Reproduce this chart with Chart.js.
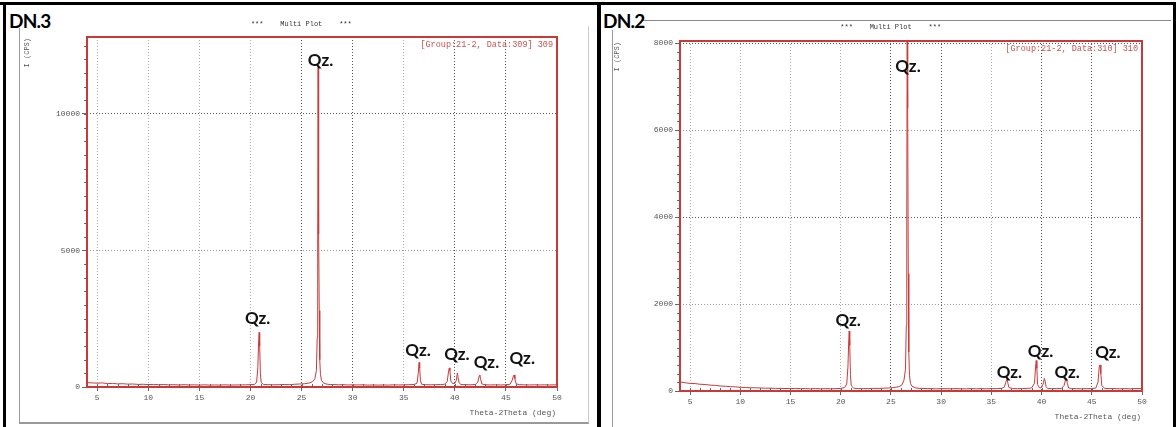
<!DOCTYPE html>
<html>
<head>
<meta charset="utf-8">
<script src="https://cdn.jsdelivr.net/npm/chart.js@4.4.1/dist/chart.umd.min.js"></script>
<style>
  html, body { margin: 0; padding: 0; background: #fff; }
  body { width: 1176px; height: 427px; position: relative; overflow: hidden; }
  .bar { position: absolute; }
  .tag { position: absolute; font-family: Lato, sans-serif; font-weight: 700; font-size: 19px; letter-spacing: -0.8px; color: #000; line-height: 19px; }
  canvas { position: absolute; top: 0; }
</style>
</head>
<body>
<!-- screenshot frame -->
<div class="bar" style="left:0;top:2px;width:1176px;height:3px;background:#000"></div>
<div class="bar" style="left:3px;top:2px;width:3px;height:425px;background:#000"></div>
<div class="bar" style="left:597px;top:2px;width:4px;height:425px;background:#000"></div>
<div class="bar" style="left:1173px;top:2px;width:3px;height:425px;background:#000"></div>
<div class="bar" style="left:19px;top:28px;width:1px;height:395px;background:#999"></div>
<div class="bar" style="left:19px;top:422px;width:570px;height:2px;background:#999"></div>
<div class="bar" style="left:588px;top:26px;width:1px;height:397px;background:#ccc"></div>
<div class="bar" style="left:612px;top:30px;width:1px;height:397px;background:#999"></div>
<div class="bar" style="left:641px;top:20px;width:530px;height:1px;background:#888"></div>
<div class="tag" style="left:9px;top:11px">DN.3</div>
<div class="tag" style="left:603px;top:11px">DN.2</div>

<canvas id="dn3" width="598" height="427" style="left:0"></canvas>
<canvas id="dn2" width="576" height="427" style="left:600px"></canvas>

<script>
// 2-theta tick labels shared by both plots
const xTicks = [5, 10, 15, 20, 25, 30, 35, 40, 45, 50];
const dn3YTicks = [0, 5000, 10000];
const dn2YTicks = [0, 2000, 4000, 6000, 8000];

// DN.3 pattern (deg, CPS)
const dn3Theta = [4.0, 4.5, 5.0, 5.5, 6.0, 6.5, 7.0, 7.5, 8.0, 8.5, 9.0, 9.5, 10.0, 10.5, 11.0, 11.5, 12.0, 12.5,
  13.0, 13.5, 14.0, 14.5, 15.0, 15.5, 16.0, 16.5, 17.0, 17.5, 18.0, 18.5, 19.0, 19.5, 20.0, 20.4, 20.6, 20.72,
  20.8, 20.85, 20.9, 20.97, 21.05, 21.3, 21.8, 22.3, 22.8, 23.3, 23.8, 24.3, 24.8, 25.3, 25.8, 26.1, 26.3, 26.45,
  26.53, 26.58, 26.62, 26.65, 26.69, 26.73, 26.78, 26.85, 26.95, 27.1, 27.4, 27.8, 28.2, 28.6, 29.0, 29.5, 30.0,
  30.5, 31.0, 31.5, 32.0, 32.5, 33.0, 33.5, 34.0, 34.5, 35.0, 35.5, 36.0, 36.3, 36.42, 36.5, 36.56, 36.63, 36.75,
  37.1, 37.6, 38.1, 38.6, 39.0, 39.25, 39.38, 39.46, 39.52, 39.6, 39.8, 40.0, 40.15, 40.25, 40.32, 40.42, 40.6,
  41.0, 41.5, 42.0, 42.25, 42.38, 42.45, 42.52, 42.65, 43.0, 43.5, 44.0, 44.5, 45.0, 45.4, 45.62, 45.74, 45.8,
  45.88, 46.0, 46.3, 46.8, 47.3, 47.8, 48.3, 48.8, 49.3, 50.0];
const dn3Counts = [160, 150, 140, 150, 125, 130, 115, 120, 105, 110, 95, 100, 90, 95, 85, 90, 80, 85,
  75, 85, 75, 80, 70, 80, 70, 75, 70, 80, 70, 75, 75, 80, 85, 95, 180, 700,
  1700, 2000, 1500, 500, 160, 90, 85, 80, 85, 90, 85, 100, 110, 120, 150, 200, 300, 600,
  1800, 5500, 11700, 7000, 5600, 2800, 1000, 450, 250, 160, 110, 90, 90, 80, 85, 75, 80,
  75, 80, 70, 75, 70, 75, 70, 80, 75, 80, 85, 90, 140, 500, 900, 700, 250, 100,
  85, 80, 85, 90, 100, 200, 550, 700, 600, 220, 120, 130, 250, 510, 350, 150, 90,
  85, 80, 90, 180, 400, 440, 300, 110, 80, 75, 80, 75, 80, 100, 250, 420, 440,
  300, 120, 85, 80, 75, 80, 75, 80, 75, 80];

// DN.2 pattern (deg, CPS)
const dn2Theta = [4.0, 4.5, 5.0, 5.5, 6.0, 6.5, 7.0, 7.5, 8.0, 8.5, 9.0, 9.5, 10.0, 10.5, 11.0, 11.5, 12.0, 12.5,
  13.0, 13.5, 14.0, 15.0, 15.5, 16.0, 16.5, 17.0, 17.5, 18.0, 18.5, 19.0, 19.5, 20.0, 20.4, 20.6, 20.72, 20.8,
  20.85, 20.9, 20.97, 21.05, 21.3, 21.8, 22.3, 22.8, 23.3, 23.8, 24.3, 24.8, 25.3, 25.8, 26.1, 26.3, 26.45, 26.53,
  26.58, 26.62, 26.65, 26.69, 26.73, 26.78, 26.85, 26.95, 27.1, 27.4, 27.8, 28.2, 28.6, 29.0, 29.5, 30.0, 31.0,
  31.5, 32.0, 32.5, 33.0, 33.5, 34.0, 34.5, 35.0, 35.5, 36.0, 36.3, 36.42, 36.55, 36.63, 36.75, 37.1, 37.6, 38.1,
  38.6, 39.0, 39.3, 39.4, 39.47, 39.53, 39.6, 39.8, 40.0, 40.15, 40.28, 40.36, 40.45, 40.6, 41.0, 41.5, 42.0,
  42.25, 42.4, 42.48, 42.56, 42.7, 43.0, 43.5, 44.0, 44.5, 45.0, 45.4, 45.62, 45.74, 45.82, 45.9, 46.0, 46.3,
  46.8, 47.3, 47.8, 48.3, 48.8, 49.3, 50.0];
const dn2Counts = [210, 190, 175, 170, 155, 150, 135, 130, 115, 110, 100, 95, 85, 80, 75, 75, 70, 65,
  65, 60, 60, 55, 60, 55, 55, 50, 55, 50, 55, 50, 55, 60, 80, 160, 550, 1150,
  1380, 1050, 380, 120, 65, 55, 55, 55, 60, 60, 65, 70, 80, 100, 140, 250, 500, 1500,
  4000, 8300, 6900, 6500, 2700, 900, 350, 170, 110, 75, 60, 60, 55, 55, 50, 55, 50,
  55, 50, 50, 55, 50, 55, 50, 55, 55, 60, 90, 190, 270, 200, 80, 55, 55, 55,
  60, 70, 180, 550, 700, 520, 150, 70, 80, 160, 290, 220, 100, 60, 55, 55, 60,
  130, 270, 290, 180, 70, 55, 55, 50, 55, 55, 70, 200, 550, 600, 400, 120, 60,
  55, 55, 50, 55, 50, 55, 55];

// "Qz." peak labels, anchored in data units
const dn3QzTheta = [20.7, 26.86, 36.4, 40.2, 43.1, 46.6];
const dn3QzCounts = [2520, 11960, 1350, 1200, 915, 1060];
const dn2QzTheta = [20.74, 26.7, 36.8, 39.9, 42.55, 46.6];
const dn2QzCounts = [1610, 7450, 414, 897, 414, 874];

const RED = '#c83a3a';
const MONO = '"Liberation Mono", "DejaVu Sans Mono", monospace';
const darkX = [25, 30, 40, 45];

function buildChart(id, p) {
  const pts = p.theta.map((t, i) => ({ x: t, y: p.counts[i] }));

  const decor = {
    id: 'xrdDecor',
    afterDraw(chart) {
      const { ctx, chartArea: a, scales: { x, y } } = chart;
      ctx.save();
      // minor ticks
      ctx.strokeStyle = '#666';
      ctx.lineWidth = 1;
      ctx.beginPath();
      for (let v = 5; v < 50; v++) {
        const px = Math.round(x.getPixelForValue(v)) + 0.5;
        ctx.moveTo(px, a.bottom);
        ctx.lineTo(px, a.bottom - 3);
      }
      for (let v = p.minorY; v < y.max; v += p.minorY) {
        const py = Math.round(y.getPixelForValue(v)) + 0.5;
        ctx.moveTo(a.left - 3, py);
        ctx.lineTo(a.left, py);
      }
      ctx.stroke();

      // red plot frame
      ctx.strokeStyle = RED;
      ctx.lineWidth = 2;
      ctx.strokeRect(a.left, a.top, a.right - a.left, a.bottom - a.top);

      // header and axis texts
      ctx.fillStyle = '#333';
      ctx.font = '7px ' + MONO;
      ctx.textAlign = 'center';
      ctx.textBaseline = 'middle';
      ctx.fillText('***    Multi Plot    ***', a.left + (a.right - a.left) * 0.456, p.titleY);

      ctx.fillStyle = '#c25555';
      ctx.font = '8.5px ' + MONO;
      ctx.textAlign = 'right';
      ctx.fillText(p.group, a.right - 4, a.top + 8);

      ctx.fillStyle = '#555';
      ctx.font = '8px ' + MONO;
      ctx.fillText('Theta-2Theta (deg)', a.right - 1, a.bottom + 26);

      ctx.save();
      ctx.translate(p.yTitleX, a.top + 1);
      ctx.rotate(-Math.PI / 2);
      ctx.textAlign = 'right';
      ctx.font = '7px ' + MONO;
      ctx.fillText('I (CPS)', 0, 0);
      ctx.restore();

      // Qz. annotations
      ctx.fillStyle = '#111';
      ctx.font = 'bold 17px Lato, sans-serif';
      ctx.textAlign = 'center';
      ctx.textBaseline = 'middle';
      p.qzTheta.forEach((t, i) => {
        ctx.fillText('Qz.', x.getPixelForValue(t), y.getPixelForValue(p.qzCounts[i]));
      });
      ctx.restore();
    }
  };

  return new Chart(document.getElementById(id), {
    type: 'line',
    data: {
      datasets: [{
        data: pts,
        borderColor: RED,
        borderWidth: 1,
        pointRadius: 0,
        tension: 0,
        fill: false
      }]
    },
    options: {
      responsive: false,
      animation: false,
      devicePixelRatio: 1,
      layout: { padding: p.pad },
      plugins: { legend: { display: false }, tooltip: { enabled: false } },
      scales: {
        x: {
          type: 'linear',
          min: 4,
          max: 50,
          afterBuildTicks: s => { s.ticks = xTicks.map(v => ({ value: v })); },
          afterFit: s => { s.height = p.xAxisH; },
          ticks: { font: { family: MONO, size: 8 }, color: '#555', padding: 2, maxRotation: 0, autoSkip: false, callback: v => String(v) },
          grid: { color: c => darkX.includes(c.tick.value) ? '#555' : '#aaa', tickColor: '#666', tickLength: 4, lineWidth: 1 },
          border: { display: false, dash: [1, 2] }
        },
        y: {
          min: 0,
          max: p.yMax,
          afterBuildTicks: s => { s.ticks = p.yTicks.map(v => ({ value: v })); },
          afterFit: s => { s.width = p.yAxisW; },
          ticks: { font: { family: MONO, size: 8 }, color: '#555', padding: 2, autoSkip: false, callback: v => String(v) },
          grid: { color: c => p.darkY.includes(c.tick.value) ? '#555' : '#999', tickColor: '#666', tickLength: 5, lineWidth: 1 },
          border: { display: false, dash: [1, 2] }
        }
      }
    },
    plugins: [decor]
  });
}

buildChart('dn3', {
  theta: dn3Theta, counts: dn3Counts, yTicks: dn3YTicks, yMax: 12820, minorY: 500,
  qzTheta: dn3QzTheta, qzCounts: dn3QzCounts, darkY: [10000],
  group: '[Group:21-2, Data:309] 309', titleY: 24, yTitleX: 27,
  pad: { left: 30, right: 41, top: 37, bottom: 10 }, yAxisW: 57, xAxisH: 30
});

buildChart('dn2', {
  theta: dn2Theta, counts: dn2Counts, yTicks: dn2YTicks, yMax: 8046, minorY: 200,
  qzTheta: dn2QzTheta, qzCounts: dn2QzCounts, darkY: [8000, 4000],
  group: '[Group:21-2, Data:310] 310', titleY: 27, yTitleX: 17,
  pad: { left: 30, right: 34, top: 41, bottom: 10 }, yAxisW: 50, xAxisH: 26
});
</script>
</body>
</html>
